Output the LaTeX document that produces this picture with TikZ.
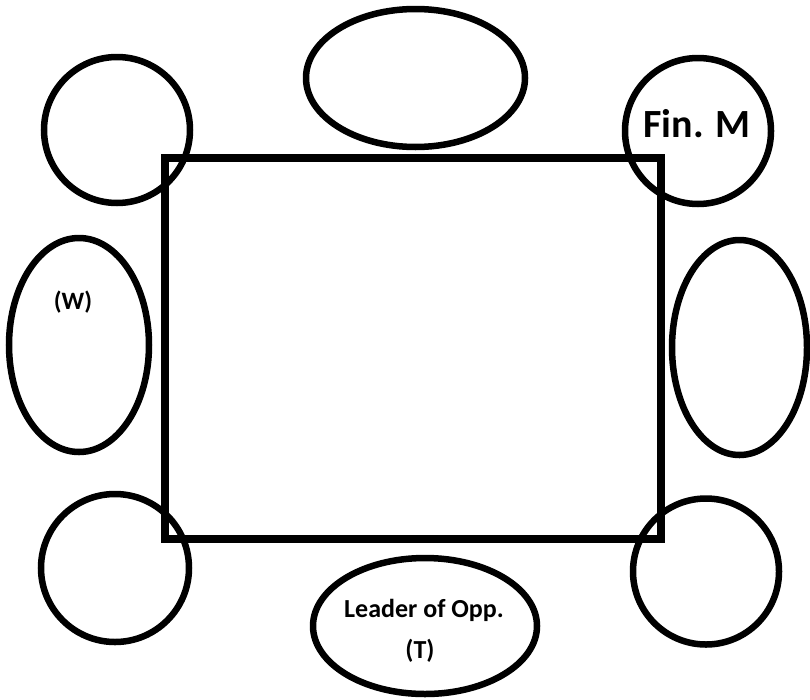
\documentclass[tikz,border=0pt]{standalone}
\usepackage{fontspec}
\setmainfont{Carlito}
\usetikzlibrary{shapes.geometric}
\begin{document}
\begin{tikzpicture}[x=1pt,y=-1pt,
  seat/.style={draw=black, line width=6.5pt, ellipse, inner sep=0pt, outer sep=0pt},
  lbl/.style={font=\bfseries, inner sep=0pt, anchor=base}]
\useasboundingbox[fill=white] (0,0) rectangle (810,699);
\node[draw=black, line width=7.5pt, minimum width=496pt, minimum height=381pt,
      inner sep=0pt, outer sep=0pt, anchor=north west] (table) at (165,158) {};
\node[seat, minimum width=219pt, minimum height=138pt] (top) at (415.5,78) {};
\node[seat, minimum width=146pt, minimum height=146pt] (tl) at (117,130) {};
\node[seat, minimum width=146pt, minimum height=146pt] (tr) at (698,131) {};
\node[seat, minimum width=140pt, minimum height=214pt] (left) at (79,345) {};
\node[seat, minimum width=135pt, minimum height=215pt] (right) at (739.5,347.5) {};
\node[seat, minimum width=148pt, minimum height=148pt] (bl) at (115,568) {};
\node[seat, minimum width=146pt, minimum height=146pt] (br) at (706,571.5) {};
\node[seat, minimum width=224pt, minimum height=136pt] (bottom) at (425,626) {};
\node[lbl, font=\fontsize{40}{40}\bfseries\selectfont] (finm) at (697,137) {Fin. M};
\node[lbl, font=\fontsize{25}{25}\bfseries\selectfont] (w) at (73,309) {(W)};
\node[lbl, font=\fontsize{26}{26}\bfseries\selectfont] (leader) at (424,617) {Leader of Opp.};
\node[lbl, font=\fontsize{26}{26}\bfseries\selectfont] (t) at (420,658) {(T)};
\end{tikzpicture}
\end{document}
